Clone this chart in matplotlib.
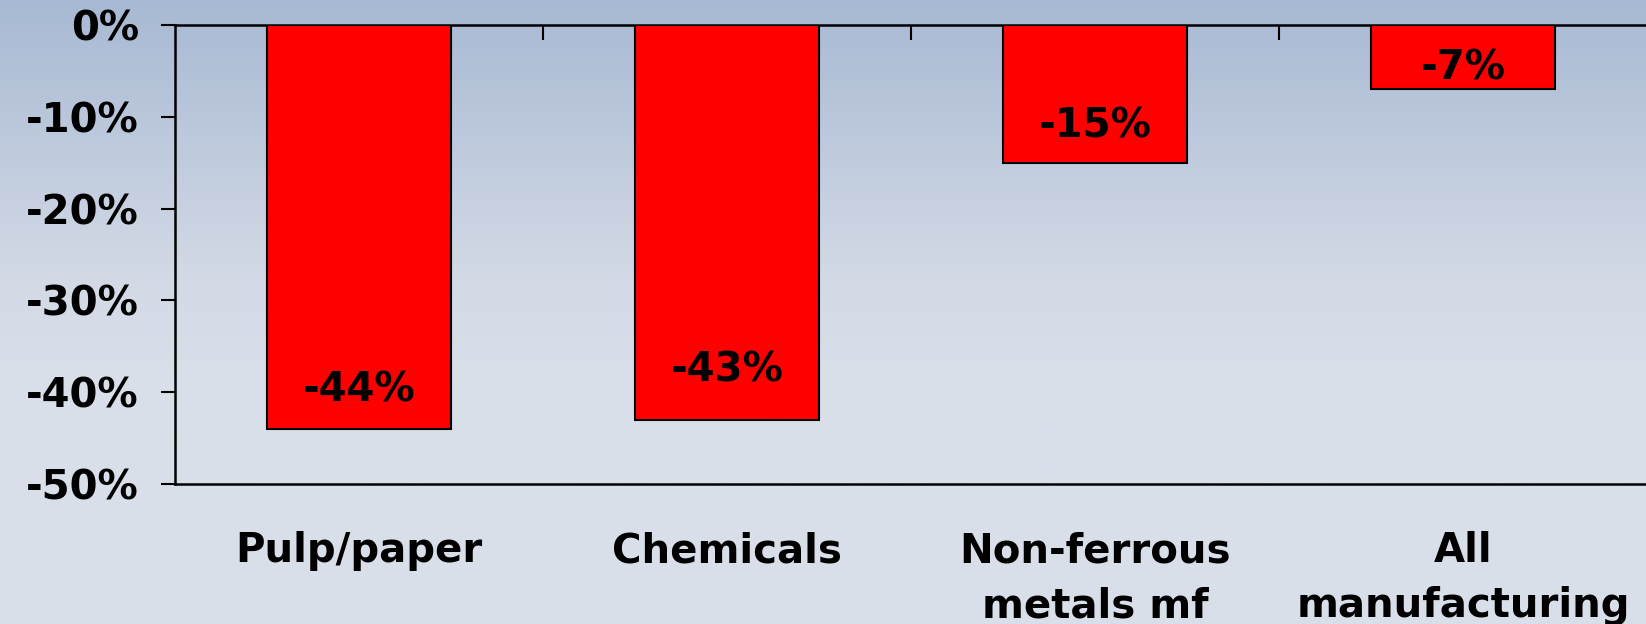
import numpy as np
import matplotlib
matplotlib.use("Agg")
import matplotlib.pyplot as plt
from matplotlib.colors import LinearSegmentedColormap

categories = ["Pulp/paper", "Chemicals", "Non-ferrous\nmetals mf", "All\nmanufacturing"]
values = [-44, -43, -15, -7]
value_labels = ["-44%", "-43%", "-15%", "-7%"]
yticks = [0, -10, -20, -30, -40, -50]
ytick_labels = ["0%", "-10%", "-20%", "-30%", "-40%", "-50%"]

plt.rcParams['font.family'] = ['DejaVu Sans']

fig = plt.figure(figsize=(16.46, 6.24), dpi=100)

# background gradient
bg = fig.add_axes([0, 0, 1, 1], zorder=-10)
cmap = LinearSegmentedColormap.from_list(
    "bg", [(0.0, "#a8b9d3"), (0.45, "#d3dae6"), (0.6, "#d9dfe9"), (1.0, "#d9dfe9")])
grad = np.linspace(0, 1, 256).reshape(-1, 1)
bg.imshow(grad, aspect="auto", cmap=cmap, extent=[0, 1, 0, 1], origin="upper")
bg.set_axis_off()

ax = fig.add_axes([0.1063, 0.2244, 0.8945, 0.7356])
ax.patch.set_alpha(0)

x = np.arange(len(categories))
bars = ax.bar(x, values, width=0.5, color="#ff0000", edgecolor="black", linewidth=1.5, zorder=3)

ax.set_xlim(-0.5, len(categories) - 0.5)
ax.set_ylim(-50, 0)

FS = 29
label_offsets = [-38, -49, -36, -21]  # offsets of labels from bar ends
for xi, v, lab, off in zip(x, values, value_labels, label_offsets):
    ax.annotate(lab, (xi, v), xytext=(0, -off * 0.72), textcoords="offset points",
                ha="center", va="center", fontsize=FS, fontweight="bold", color="black", zorder=4)

ax.set_yticks(yticks)
ax.set_yticklabels(ytick_labels, fontsize=FS, fontweight="bold")
ax.set_xticks(x)
ax.set_xticklabels(categories, fontsize=FS, fontweight="bold", linespacing=1.48)
ax.set_xticks([0.5, 1.5, 2.5], minor=True)

ax.tick_params(axis="y", direction="out", length=10, width=1.5, pad=16)
ax.tick_params(axis="x", which="major", length=0, pad=34)
ax.tick_params(axis="x", which="minor", top=True, bottom=False, direction="in", length=11, width=1.5)

for s in ["left", "top", "bottom"]:
    ax.spines[s].set_linewidth(1.8)
ax.spines["right"].set_visible(False)

fig.savefig("out.png", dpi=100)
